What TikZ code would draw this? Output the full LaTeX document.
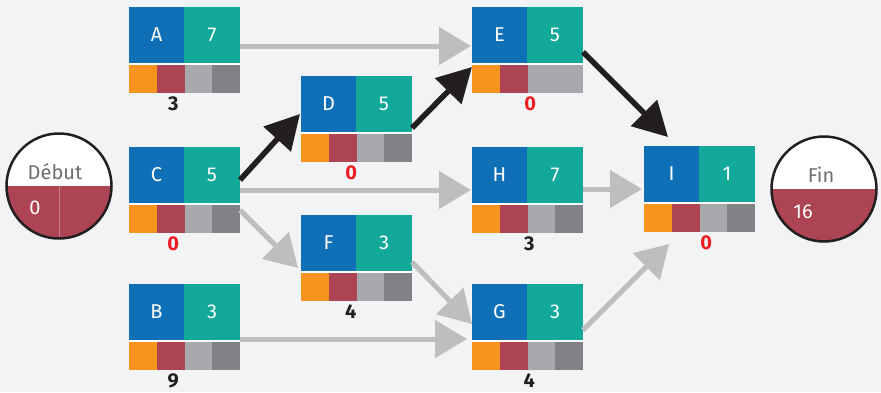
\documentclass[tikz,border=0pt]{standalone}
\usepackage{fontspec}
\setmainfont{Fira Sans}
\usetikzlibrary{arrows.meta,calc}

\definecolor{bg}{HTML}{F2F3F5}
\definecolor{taskblue}{HTML}{0F70B7}
\definecolor{taskteal}{HTML}{12A89A}
\definecolor{taskorange}{HTML}{F7941D}
\definecolor{taskred}{HTML}{AD4453}
\definecolor{lightgrey}{HTML}{A7A9AC}
\definecolor{darkgrey}{HTML}{808285}
\definecolor{arrowgrey}{HTML}{BCBEC0}
\definecolor{ink}{HTML}{231F20}
\definecolor{slackred}{HTML}{ED1C24}
\definecolor{captiongrey}{HTML}{6D6E71}

\tikzset{
  boxframe/.style={rectangle, minimum width=111pt, minimum height=86pt,
    inner sep=0pt, anchor=north west},
  boxtext/.style={text=white, font=\fontsize{20}{22}\selectfont},
  slack/.style={inner sep=0pt, font=\fontsize{20}{22}\selectfont\bfseries},
  eventcircle/.style={circle, minimum size=105pt, inner sep=0pt,
    draw=ink, line width=2.5pt, fill=white},
  greylink/.style={draw=arrowgrey, line width=5pt,
    -{Triangle[length=32pt, width=37pt]}},
  blacklink/.style={draw=ink, line width=5.5pt,
    -{Triangle[length=34pt, width=36pt]}},
}

% #1 name, #2 x, #3 y, #4 letter, #5 duration,
% #6 colour of the last strip cell, #7 slack, #8 slack x offset, #9 slack colour
\newcommand\taskbox[9]{%
  \node[boxframe] (#1) at (#2,#3) {};
  \fill[white] (#1.north west) rectangle (#1.south east);
  \fill[taskblue] (#1.north west) rectangle ++(55,56);
  \fill[taskteal] ($(#1.north west)+(55,0)$) rectangle ++(56,56);
  \fill[taskorange] ($(#1.north west)+(0,58)$) rectangle ++(28,28);
  \fill[taskred] ($(#1.north west)+(28,58)$) rectangle ++(28,28);
  \fill[lightgrey] ($(#1.north west)+(56,58)$) rectangle ++(55,28);
  \fill[#6] ($(#1.north west)+(83,58)$) rectangle ++(28,28);
  \node[boxtext] at ($(#1.north west)+(27.5,28)$) {#4};
  \node[boxtext] at ($(#1.north west)+(83,28)$) {#5};
  \node[slack, text=#9] at ($(#1.south)+(#8,10.5)$) {#7};
}

\begin{document}
\begin{tikzpicture}[x=1pt, y=-1pt]
\fill[bg] (0,0) rectangle (881,392);
\useasboundingbox (0,0) rectangle (881,392);

% activities
\taskbox{A}{129}{7}{A}{7}{darkgrey}{3}{-11.5}{ink}
\taskbox{C}{129}{147}{C}{5}{darkgrey}{0}{-11.5}{slackred}
\taskbox{B}{129}{284}{B}{3}{darkgrey}{9}{-11.5}{ink}
\taskbox{D}{301}{76}{D}{5}{darkgrey}{0}{-5.5}{slackred}
\taskbox{F}{301}{215}{F}{3}{darkgrey}{4}{-6}{ink}
\taskbox{E}{472}{7}{E}{5}{lightgrey}{0}{2.5}{slackred}
\taskbox{H}{472}{147}{H}{7}{darkgrey}{3}{1.5}{ink}
\taskbox{G}{472}{284}{G}{3}{darkgrey}{4}{1.5}{ink}
\taskbox{I}{644}{146}{I}{1}{darkgrey}{0}{6.5}{slackred}

% start and end events
\node[eventcircle, path picture={
    \fill[taskred] (path picture bounding box.west) rectangle (path picture bounding box.south east);
    \draw[taskred!70!white, line width=0.8pt] (path picture bounding box.center) -- (path picture bounding box.south);
  }] (start) at (59,186) {};
\node[text=captiongrey, font=\fontsize{20}{22}\selectfont] at ($(start.center)+(-4,-14)$) {Début};
\node[text=white, font=\fontsize{20}{22}\selectfont] at ($(start.center)+(-24,22)$) {0};

\node[eventcircle, path picture={
    \fill[taskred] (path picture bounding box.west) rectangle (path picture bounding box.south east);
  }] (finish) at (824,189) {};
\node[text=captiongrey, font=\fontsize{20}{22}\selectfont] at ($(finish.center)+(-3,-14)$) {Fin};
\node[text=white, font=\fontsize{20}{22}\selectfont] at ($(finish.center)+(-21,23)$) {16};

% dependencies
\draw[greylink] ($(A.north west)+(111,39)$) -- ($(E.north west)+(-1,39)$);
\draw[greylink] ($(C.north west)+(111,43)$) -- ($(H.north west)+(-1,43)$);
\draw[greylink] ($(H.north west)+(111,42)$) -- ($(I.north west)+(-2,43)$);
\draw[greylink] ($(B.north west)+(111,55)$) -- ($(G.north west)+(-5,55)$);
\draw[greylink] ($(F.north west)+(111,47)$) -- ($(G.north west)+(0,40)$);
\draw[greylink] ($(G.north west)+(111,46)$) -- ($(I.north west)+(25,98)$);
\draw[greylink] ($(C.north west)+(111,63)$) -- ($(F.north west)+(-3,53)$);

% critical path
\draw[blacklink] ($(C.north west)+(111,33)$) -- ($(D.north west)+(-1,38)$);
\draw[blacklink] ($(D.north west)+(111,52)$) -- ($(E.north west)+(0,60)$);
\draw[blacklink] ($(E.north west)+(111,45)$) -- ($(I.north west)+(24,-9)$);
\end{tikzpicture}
\end{document}
